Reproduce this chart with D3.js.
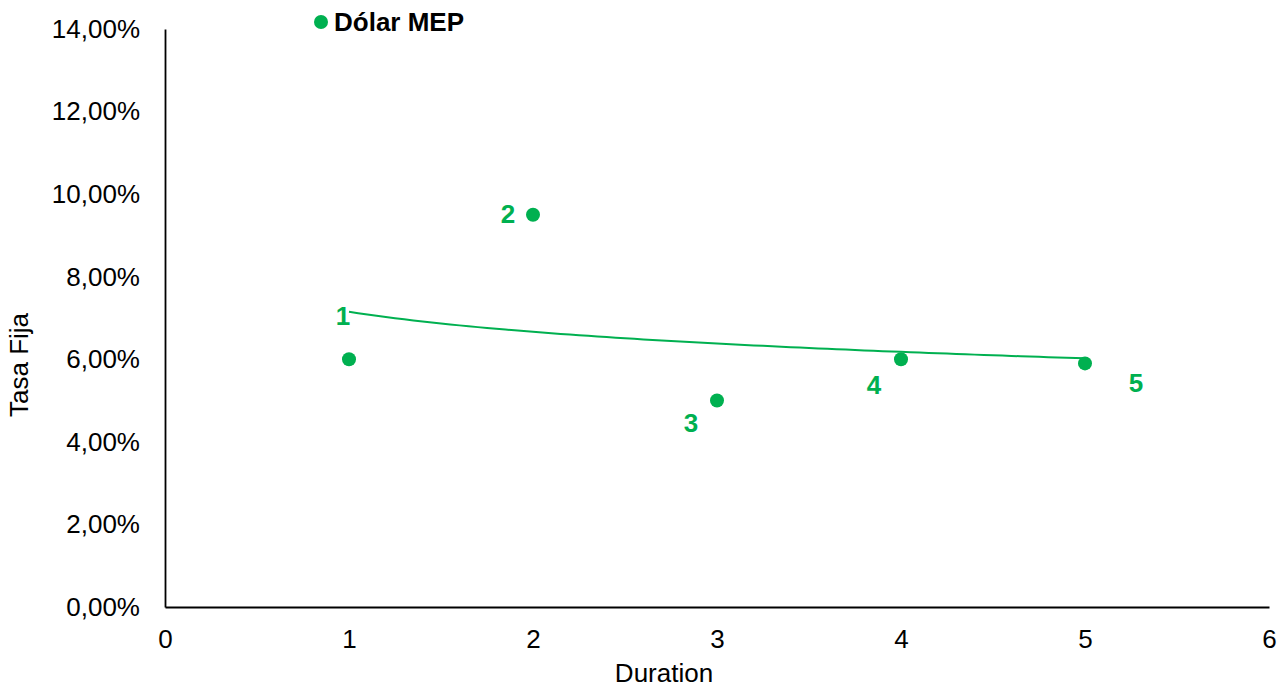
<!DOCTYPE html>
<html>
<head>
<meta charset="utf-8">
<script src="https://cdn.jsdelivr.net/npm/d3@7"></script>
<style>
  body { margin: 0; background: #fff; }
  text { font-family: "Liberation Sans", Arial, sans-serif; }
</style>
</head>
<body>
<div id="chart"></div>
<script>
const durations = [1, 2, 3, 4, 5];
const rates = [0.060, 0.095, 0.050, 0.060, 0.059];
const pointLabels = ["1", "2", "3", "4", "5"];
const seriesName = "Dólar MEP";
const xTicks = [0, 1, 2, 3, 4, 5, 6];
const yTicks = [0, 0.02, 0.04, 0.06, 0.08, 0.10, 0.12, 0.14];

// label offsets in px, as placed in the original
const labelOffsets = [[-6, -43], [-25, -1], [-26, 22], [-27, 26], [51, 19]];

const green = "#00b050";
const W = 1281, H = 692;
const margin = { top: 29, right: 12, bottom: 85, left: 165 };
const fs = 26;

const svg = d3.select("#chart").append("svg")
    .attr("width", W)
    .attr("height", H);

const x = d3.scaleLinear().domain([0, 6]).range([margin.left, W - margin.right]);
const y = d3.scaleLinear().domain([0, 0.14]).range([H - margin.bottom, margin.top]);

const pct = d => d3.format(".2f")(d * 100).replace(".", ",") + "%";

// axes without tick marks
svg.append("g")
    .attr("transform", `translate(0,${H - margin.bottom})`)
    .call(d3.axisBottom(x).tickValues(xTicks).tickSize(0).tickPadding(23).tickFormat(d3.format("d")))
    .call(g => g.select(".domain").attr("stroke", "#000").attr("stroke-width", 1.8))
    .call(g => g.selectAll("text").attr("font-size", fs).attr("fill", "#000"));

svg.append("g")
    .attr("transform", `translate(${margin.left},0)`)
    .call(d3.axisLeft(y).tickValues(yTicks).tickSize(0).tickPadding(25).tickFormat(pct))
    .call(g => g.select(".domain").attr("stroke", "#000").attr("stroke-width", 1.8))
    .call(g => g.selectAll("text").attr("font-size", fs).attr("fill", "#000"));

svg.append("text")
    .attr("x", 664)
    .attr("y", 682)
    .attr("text-anchor", "middle")
    .attr("font-size", fs)
    .text("Duration");

svg.append("text")
    .attr("transform", "translate(28,365) rotate(-90)")
    .attr("text-anchor", "middle")
    .attr("font-size", fs)
    .text("Tasa Fija");

// logarithmic trendline, least squares on ln(x)
const lx = durations.map(Math.log);
const mx = d3.mean(lx), my = d3.mean(rates);
const b = d3.sum(lx, (v, i) => (v - mx) * (rates[i] - my)) / d3.sum(lx, v => (v - mx) ** 2);
const a = my - b * mx;
const trend = d3.range(1, 5.001, 0.05).map(t => [t, a + b * Math.log(t)]);

svg.append("path")
    .datum(trend)
    .attr("fill", "none")
    .attr("stroke", green)
    .attr("stroke-width", 2)
    .attr("d", d3.line().x(d => x(d[0])).y(d => y(d[1])));

svg.selectAll(".pt")
    .data(durations)
    .enter().append("circle")
    .attr("class", "pt")
    .attr("cx", d => x(d))
    .attr("cy", (d, i) => y(rates[i]))
    .attr("r", 7)
    .attr("fill", green);

svg.selectAll(".lbl")
    .data(durations)
    .enter().append("text")
    .attr("class", "lbl")
    .attr("x", (d, i) => x(d) + labelOffsets[i][0])
    .attr("y", (d, i) => y(rates[i]) + labelOffsets[i][1])
    .attr("dy", "0.35em")
    .attr("text-anchor", "middle")
    .attr("font-size", fs)
    .attr("font-weight", "bold")
    .attr("fill", green)
    .text((d, i) => pointLabels[i]);

// legend
const leg = svg.append("g").attr("transform", "translate(321,22)");
leg.append("circle").attr("r", 7).attr("fill", green);
leg.append("text")
    .attr("x", 13)
    .attr("dy", "0.35em")
    .attr("font-size", fs)
    .attr("font-weight", "bold")
    .attr("fill", "#000")
    .text(seriesName);
</script>
</body>
</html>
